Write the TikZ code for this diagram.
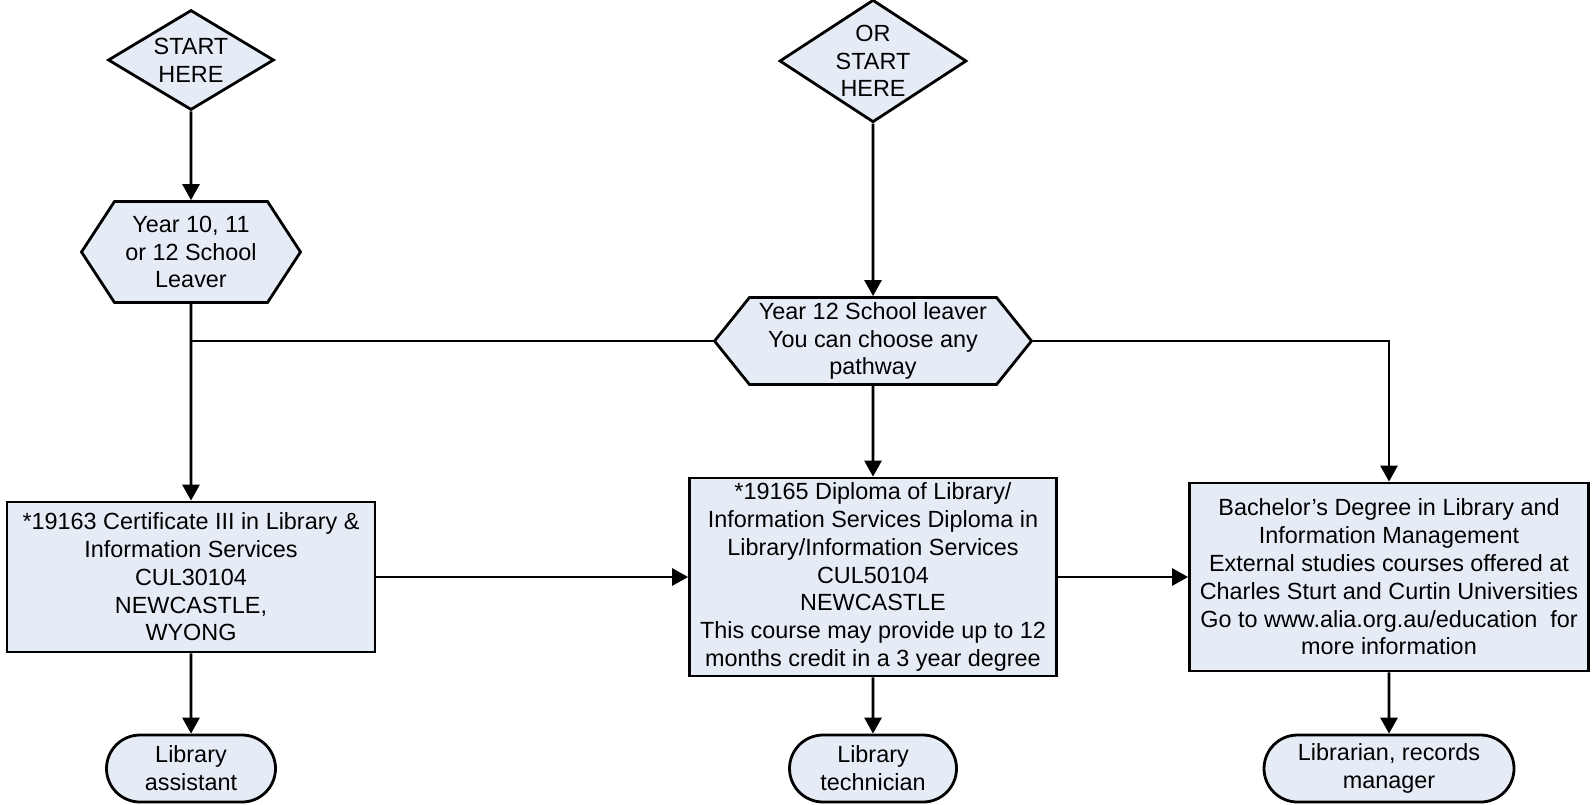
\documentclass[tikz,border=0pt]{standalone}
\usepackage{fontspec}
\setmainfont{Liberation Sans}
\usetikzlibrary{shapes.geometric,shapes.symbols,shapes.misc,arrows.meta}
\definecolor{boxfill}{RGB}{230,236,246}

\begin{document}
\begin{tikzpicture}[x=0.5pt,y=-0.5pt,
    every node/.style={draw,fill=boxfill,line width=1.4pt,align=center,
      font=\fontsize{11.7}{13.9}\selectfont,inner sep=0pt},
    startdia/.style={diamond,inner sep=-3pt},
    hexa/.style={signal,signal to=east and west},
    course/.style={rectangle},
    job/.style={rounded rectangle,minimum height=33.5pt},
    arr/.style={line width=1.4pt,-{Triangle[width=8.5pt,length=8pt]}},
    link/.style={line width=1.1pt}]
    \useasboundingbox (0,0) rectangle (1593,804);

    \node[startdia,minimum width=83pt,minimum height=50pt] (start1) at (191,60) {START\\HERE};
    \node[startdia,minimum width=93.5pt,minimum height=59pt] (start2) at (873,61) {OR\\START\\HERE};

    \node[hexa,signal pointer angle=113.7,minimum width=109.5pt,minimum height=50.5pt] (school1) at (191,252) {Year 10, 11\\or 12 School\\Leaver};
    \node[hexa,signal pointer angle=102.4,minimum width=158.5pt,minimum height=43.5pt] (school2) at (873,341) {Year 12 School leaver\\You can choose any\\pathway};

    \node[course,minimum width=184pt,minimum height=75pt] (cert) at (191,577) {*19163 Certificate III in Library \&\\Information Services\\CUL30104\\NEWCASTLE,\\WYONG};
    \node[course,minimum width=183.5pt,minimum height=99pt] (dipl) at (873,577) {*19165 Diploma of Library/\\Information Services Diploma in\\Library/Information Services\\CUL50104\\NEWCASTLE\\This course may provide up to 12\\months credit in a 3 year degree};
    \node[course,minimum width=199.5pt,minimum height=94pt] (bach) at (1389,577) {Bachelor’s Degree in Library and\\Information Management\\External studies courses offered at\\Charles Sturt and Curtin Universities\\Go to www.alia.org.au/education\ \ for\\more information};

    \node[job,minimum width=84.5pt] (asst) at (191,768.5) {Library\\assistant};
    \node[job,minimum width=83.5pt] (tech) at (873,768.5) {Library\\technician};
    \node[job,minimum width=125pt] (libr) at (1389,768.5) {Librarian, records\\manager};

    % entry paths
    \draw[arr] (start1) -- (school1);
    \draw[arr] (start2) -- (school2);
    \draw[arr] (school1) -- (cert);
    \draw[link] (school2.west) -- (school2.west -| school1.south);
    \draw[arr] (school2) -- (dipl);
    \draw[arr] (school2.east) -| (bach.north);

    % courses
    \draw[arr] (cert) -- (dipl);
    \draw[arr] (dipl) -- (bach);
    \draw[arr] (cert) -- (asst);
    \draw[arr] (dipl) -- (tech);
    \draw[arr] (bach) -- (libr);
\end{tikzpicture}
\end{document}
